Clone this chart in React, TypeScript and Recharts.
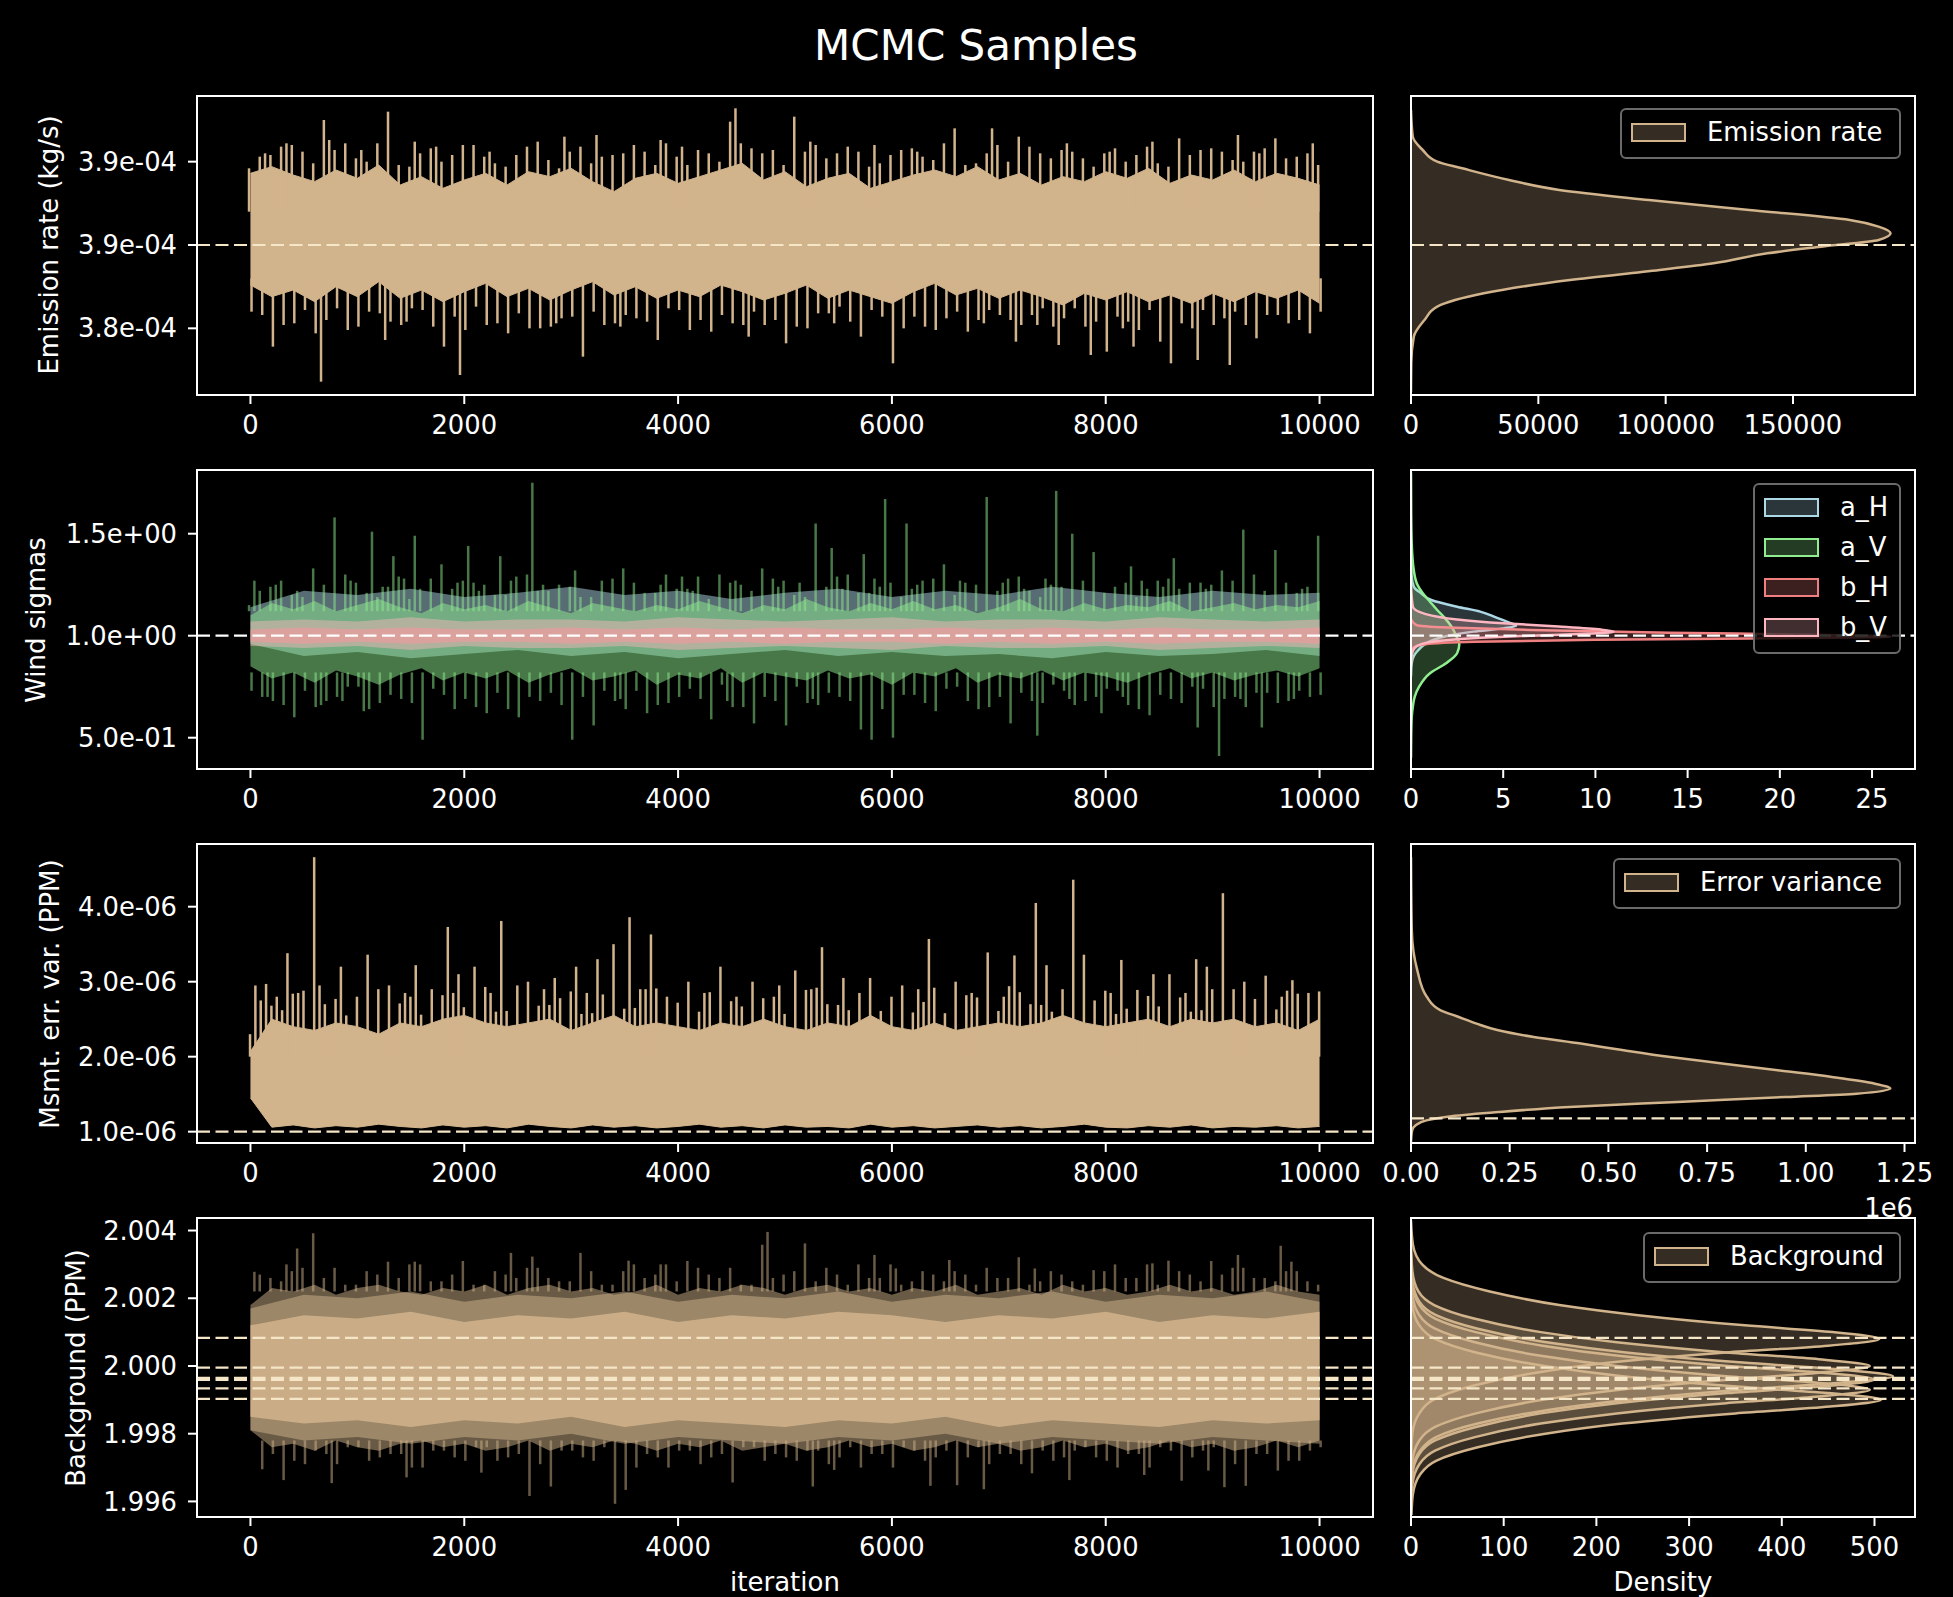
import React from 'react';
import { ComposedChart, Area, Bar, XAxis, YAxis, ReferenceLine } from 'recharts';

const FONT = '"DejaVu Sans", Verdana, sans-serif';
const TAN = '#d2b48c';
const CREAM = '#f5e6c8';
const WHITE = '#ffffff';
const LIGHTBLUE = '#add8e6';
const LIGHTGREEN = '#90ee90';
const LIGHTCORAL = '#f08080';
const PINK = '#ffb6c1';
const FS = 25.8;

// ---- layout of the 4x2 grid (px) ----
const LEFT_X = 197;
const LEFT_W = 1176;
const RIGHT_X = 1411;
const RIGHT_W = 504;
const PLOT_H = 299;
const ROW_TOPS = [96, 470, 844, 1218];

const ITER_TICKS = [0, 2000, 4000, 6000, 8000, 10000];

// ---- row 1 : emission rate (values in 1e-4 kg/s) ----
const emisTruth = 3.85;
const emisTicks = [3.8, 3.85, 3.9];
const emisTickLabels = ['3.8e-04', '3.9e-04', '3.9e-04'];
// dense part of the trace, every 200 iterations
const emisUpper = [3.893, 3.897, 3.892, 3.888, 3.895, 3.89, 3.898, 3.886, 3.891, 3.884, 3.889, 3.893, 3.886, 3.894, 3.891, 3.896, 3.888, 3.882, 3.89, 3.893, 3.887, 3.891, 3.895, 3.899, 3.889, 3.894, 3.885, 3.89, 3.893, 3.884, 3.888, 3.892, 3.895, 3.891, 3.897, 3.889, 3.893, 3.886, 3.891, 3.888, 3.894, 3.89, 3.896, 3.887, 3.892, 3.889, 3.895, 3.888, 3.893, 3.89, 3.886];
const emisLower = [3.826, 3.819, 3.823, 3.816, 3.825, 3.819, 3.828, 3.818, 3.823, 3.816, 3.822, 3.827, 3.819, 3.824, 3.817, 3.823, 3.828, 3.82, 3.825, 3.818, 3.823, 3.819, 3.826, 3.822, 3.817, 3.821, 3.826, 3.818, 3.823, 3.819, 3.815, 3.822, 3.827, 3.82, 3.824, 3.818, 3.823, 3.819, 3.814, 3.821, 3.817, 3.822, 3.816, 3.82, 3.815, 3.821, 3.816, 3.822, 3.818, 3.823, 3.815];
// ragged tips: odd hundreds (100, 300 ... 9900) and even (0, 200 ... 10000)
const emisTipHiOdd = [3.903, 3.909, 3.898, 3.906, 3.911, 3.9, 3.905, 3.897, 3.908, 3.902, 3.91, 3.899, 3.904, 3.907, 3.896, 3.909, 3.903, 3.9, 3.906, 3.911, 3.898, 3.905, 3.902, 3.908, 3.897, 3.904, 3.91, 3.901, 3.906, 3.899, 3.907, 3.903, 3.911, 3.898, 3.905, 3.9, 3.909, 3.902, 3.906, 3.897, 3.908, 3.904, 3.899, 3.91, 3.903, 3.906, 3.9, 3.908, 3.902, 3.905];
const emisTipLoOdd = [3.808, 3.802, 3.811, 3.805, 3.799, 3.81, 3.804, 3.812, 3.801, 3.807, 3.813, 3.803, 3.809, 3.8, 3.806, 3.811, 3.802, 3.808, 3.804, 3.812, 3.799, 3.807, 3.803, 3.81, 3.805, 3.801, 3.809, 3.813, 3.804, 3.807, 3.8, 3.81, 3.806, 3.802, 3.811, 3.805, 3.808, 3.801, 3.812, 3.804, 3.807, 3.799, 3.809, 3.803, 3.811, 3.806, 3.802, 3.808, 3.805, 3.81];
const emisTipHiEven = [3.896, 3.904, 3.91, 3.899, 3.907, 3.902, 3.911, 3.898, 3.905, 3.9, 3.908, 3.903, 3.897, 3.909, 3.901, 3.906, 3.899, 3.904, 3.91, 3.898, 3.903, 3.907, 3.9, 3.911, 3.905, 3.898, 3.906, 3.902, 3.909, 3.897, 3.904, 3.908, 3.901, 3.906, 3.899, 3.91, 3.903, 3.898, 3.907, 3.902, 3.905, 3.9, 3.909, 3.897, 3.904, 3.908, 3.901, 3.906, 3.899, 3.903, 3.898];
const emisTipLoEven = [3.81, 3.803, 3.807, 3.8, 3.812, 3.805, 3.809, 3.802, 3.811, 3.806, 3.799, 3.808, 3.804, 3.813, 3.801, 3.807, 3.81, 3.803, 3.806, 3.8, 3.811, 3.805, 3.808, 3.802, 3.812, 3.806, 3.8, 3.809, 3.804, 3.811, 3.803, 3.807, 3.799, 3.81, 3.805, 3.808, 3.802, 3.812, 3.806, 3.801, 3.809, 3.804, 3.811, 3.807, 3.8, 3.806, 3.81, 3.803, 3.808, 3.805, 3.81];
const emisSpikes: [number, number][] = [
  [150, 3.905], [350, 3.911], [500, 3.906], [700, 3.925], [750, 3.913], [1050, 3.907], [1300, 3.93], [1550, 3.912],
  [1750, 3.909], [1900, 3.904], [2000, 3.91], [2250, 3.906], [2700, 3.912], [2950, 3.915], [3250, 3.916], [3500, 3.905],
  [3850, 3.913], [4050, 3.909], [4200, 3.906], [4500, 3.924], [4550, 3.932], [4900, 3.907], [5100, 3.927], [5250, 3.912],
  [5500, 3.905], [5850, 3.91], [6250, 3.906], [6600, 3.92], [6950, 3.92], [7000, 3.908], [7200, 3.915], [7400, 3.905],
  [7650, 3.911], [8050, 3.906], [8450, 3.912], [8700, 3.914], [8900, 3.907], [9250, 3.916], [9450, 3.905], [9600, 3.914], [9950, 3.911],
  [200, 3.789], [400, 3.803], [600, 3.797], [650, 3.768], [1000, 3.801], [1250, 3.793], [1450, 3.804], [1800, 3.789],
  [1950, 3.772], [2200, 3.802], [2400, 3.797], [2600, 3.8], [2850, 3.803], [3100, 3.783], [3450, 3.801], [3800, 3.793],
  [4100, 3.804], [4300, 3.798], [4650, 3.795], [4800, 3.802], [5000, 3.791], [5450, 3.803], [5700, 3.795], [6000, 3.779],
  [6300, 3.801], [6700, 3.798], [6850, 3.803], [7150, 3.792], [7350, 3.802], [7550, 3.79], [7850, 3.784], [8000, 3.786],
  [8150, 3.8], [8250, 3.789], [8500, 3.792], [8600, 3.779], [8850, 3.781], [9000, 3.802], [9150, 3.778], [9400, 3.794],
  [9700, 3.803], [9900, 3.797],
];
const emisKdeV = [3.762, 3.779, 3.795, 3.805, 3.813, 3.821, 3.829, 3.835, 3.839, 3.845, 3.849, 3.853, 3.857, 3.861, 3.865, 3.871, 3.877, 3.883, 3.889, 3.896, 3.9, 3.907, 3.915, 3.931];
const emisKdeD = [0, 100, 1100, 5300, 10300, 28600, 62400, 97600, 118800, 139900, 161000, 183600, 188300, 183600, 172300, 132800, 93400, 58200, 38500, 20100, 10300, 4600, 700, 0];

// ---- row 2 : wind sigmas ----
const windTruth = 1.0;
const windTicks = [0.5, 1.0, 1.5];
const windTickLabels = ['5.0e-01', '1.0e+00', '1.5e+00'];
const aVUpper = [1.1, 1.16, 1.13, 1.17, 1.12, 1.15, 1.18, 1.14, 1.11, 1.16, 1.13, 1.15, 1.12, 1.17, 1.14, 1.11, 1.16, 1.14, 1.12, 1.15, 1.13, 1.17, 1.14, 1.11, 1.15, 1.13, 1.18, 1.14, 1.12, 1.16, 1.13, 1.17, 1.13, 1.15, 1.11, 1.14, 1.18, 1.13, 1.12, 1.16, 1.13, 1.15, 1.14, 1.17, 1.12, 1.14, 1.16, 1.13, 1.15, 1.14, 1.17];
const aVLower = [0.85, 0.79, 0.82, 0.77, 0.83, 0.8, 0.76, 0.81, 0.84, 0.78, 0.82, 0.79, 0.83, 0.77, 0.81, 0.84, 0.78, 0.8, 0.83, 0.76, 0.81, 0.79, 0.84, 0.77, 0.82, 0.8, 0.78, 0.83, 0.79, 0.81, 0.76, 0.82, 0.8, 0.84, 0.77, 0.81, 0.79, 0.83, 0.78, 0.82, 0.8, 0.77, 0.81, 0.84, 0.79, 0.82, 0.78, 0.81, 0.83, 0.8, 0.84];
const aVTipHiOdd = [1.22, 1.27, 1.19, 1.25, 1.3, 1.21, 1.24, 1.18, 1.28, 1.23, 1.26, 1.2, 1.29, 1.22, 1.25, 1.19, 1.27, 1.24, 1.21, 1.3, 1.23, 1.18, 1.26, 1.22, 1.28, 1.2, 1.25, 1.29, 1.21, 1.24, 1.19, 1.27, 1.23, 1.26, 1.2, 1.28, 1.22, 1.25, 1.3, 1.21, 1.24, 1.19, 1.27, 1.23, 1.26, 1.2, 1.29, 1.22, 1.25, 1.24];
const aVTipLoOdd = [0.7, 0.66, 0.73, 0.68, 0.75, 0.64, 0.71, 0.67, 0.74, 0.69, 0.65, 0.72, 0.68, 0.76, 0.66, 0.7, 0.73, 0.64, 0.71, 0.67, 0.74, 0.69, 0.65, 0.72, 0.68, 0.75, 0.66, 0.7, 0.73, 0.64, 0.71, 0.67, 0.74, 0.69, 0.65, 0.72, 0.68, 0.76, 0.66, 0.7, 0.73, 0.64, 0.71, 0.67, 0.74, 0.69, 0.65, 0.72, 0.68, 0.7];
const aVTipHiEven = [1.15, 1.24, 1.2, 1.28, 1.22, 1.26, 1.19, 1.29, 1.23, 1.21, 1.27, 1.25, 1.2, 1.3, 1.22, 1.24, 1.19, 1.28, 1.26, 1.21, 1.23, 1.29, 1.2, 1.25, 1.22, 1.27, 1.19, 1.24, 1.3, 1.21, 1.26, 1.23, 1.28, 1.2, 1.25, 1.22, 1.29, 1.19, 1.24, 1.27, 1.21, 1.26, 1.23, 1.28, 1.2, 1.25, 1.22, 1.3, 1.24, 1.21, 1.27];
const aVTipLoEven = [0.74, 0.68, 0.72, 0.65, 0.7, 0.75, 0.67, 0.73, 0.66, 0.71, 0.69, 0.74, 0.64, 0.7, 0.72, 0.67, 0.75, 0.68, 0.73, 0.66, 0.71, 0.69, 0.76, 0.65, 0.7, 0.73, 0.67, 0.72, 0.68, 0.74, 0.66, 0.71, 0.69, 0.75, 0.64, 0.7, 0.72, 0.67, 0.73, 0.68, 0.74, 0.66, 0.71, 0.69, 0.75, 0.65, 0.7, 0.72, 0.67, 0.73, 0.71];
const aHUpper = [1.14, 1.22, 1.2, 1.23, 1.19, 1.21, 1.24, 1.2, 1.22, 1.18, 1.21, 1.23, 1.19, 1.22, 1.2, 1.24, 1.21, 1.19, 1.22, 1.2, 1.21];
const aHLower = [0.96, 0.9, 0.92, 0.89, 0.91, 0.93, 0.9, 0.92, 0.89, 0.91, 0.93, 0.9, 0.92, 0.9, 0.91, 0.89, 0.92, 0.9, 0.91, 0.93, 0.9];
const bVUpper = [1.07, 1.08, 1.07, 1.09, 1.07, 1.08, 1.08, 1.07, 1.09, 1.08, 1.07, 1.08, 1.09, 1.07, 1.08, 1.08, 1.07, 1.09, 1.08, 1.07, 1.08];
const bVLower = [0.95, 0.94, 0.95, 0.93, 0.95, 0.94, 0.94, 0.95, 0.93, 0.94, 0.95, 0.94, 0.93, 0.95, 0.94, 0.94, 0.95, 0.93, 0.94, 0.95, 0.94];
const bHUpper = [1.03, 1.04, 1.03, 1.04, 1.03, 1.03, 1.04, 1.03, 1.04, 1.03, 1.04, 1.03, 1.03, 1.04, 1.03, 1.04, 1.03, 1.04, 1.03, 1.03, 1.04];
const bHLower = [0.97, 0.96, 0.97, 0.96, 0.97, 0.97, 0.96, 0.97, 0.96, 0.97, 0.96, 0.97, 0.97, 0.96, 0.97, 0.96, 0.97, 0.96, 0.97, 0.97, 0.96];
const aVSpikes: [number, number][] = [
  [50, 1.27], [250, 1.25], [450, 1.22], [600, 1.33], [800, 1.58], [950, 1.27], [1150, 1.51], [1250, 1.24], [1350, 1.39],
  [1450, 1.28], [1550, 1.49], [1700, 1.23], [1800, 1.35], [1950, 1.26], [2050, 1.44], [2150, 1.22], [2350, 1.39], [2450, 1.27],
  [2650, 1.75], [2750, 1.25], [2900, 1.21], [3050, 1.32], [3300, 1.26], [3500, 1.33], [3600, 1.23], [3850, 1.25], [4050, 1.29],
  [4150, 1.22], [4400, 1.3], [4550, 1.27], [4800, 1.33], [4950, 1.24], [5150, 1.26], [5300, 1.55], [5450, 1.43], [5550, 1.23],
  [5750, 1.4], [5850, 1.28], [5950, 1.67], [6150, 1.55], [6250, 1.25], [6500, 1.35], [6650, 1.27], [6800, 1.22], [6900, 1.68],
  [7050, 1.26], [7250, 1.23], [7450, 1.28], [7550, 1.71], [7700, 1.5], [7800, 1.25], [7900, 1.41], [8100, 1.22], [8250, 1.34],
  [8350, 1.27], [8550, 1.24], [8650, 1.38], [8800, 1.26], [8950, 1.23], [9100, 1.32], [9200, 1.27], [9300, 1.52], [9400, 1.24],
  [9600, 1.42], [9700, 1.26], [9850, 1.23], [10000, 1.49],
  [0, 0.73], [150, 0.7], [400, 0.6], [650, 0.66], [850, 0.68], [1050, 0.63], [1400, 0.69], [1600, 0.49], [1900, 0.64],
  [2100, 0.7], [2200, 0.62], [2500, 0.6], [2700, 0.68], [3000, 0.49], [3200, 0.56], [3450, 0.69], [3700, 0.62], [4000, 0.7],
  [4300, 0.59], [4450, 0.68], [4700, 0.57], [5000, 0.56], [5250, 0.69], [5600, 0.7], [5700, 0.54], [5800, 0.49], [6000, 0.5],
  [6400, 0.63], [6700, 0.68], [7100, 0.57], [7350, 0.51], [7650, 0.69], [7950, 0.62], [8150, 0.7], [8400, 0.61], [8700, 0.68],
  [8850, 0.55], [9050, 0.41], [9250, 0.69], [9450, 0.55], [9750, 0.69], [9900, 0.7],
];
const aHKdeV = [0.8, 0.86, 0.9, 0.93, 0.955, 0.979, 1.0, 1.02, 1.036, 1.049, 1.065, 1.09, 1.118, 1.142, 1.175, 1.208, 1.24, 1.3, 1.45];
const aHKdeD = [0, 0.03, 0.15, 0.4, 0.7, 1.2, 2.0, 3.4, 5.0, 5.7, 5.3, 4.6, 3.75, 2.5, 1.1, 0.55, 0.15, 0.03, 0];
const aVKdeV = [0.4, 0.5, 0.6, 0.652, 0.7, 0.75, 0.816, 0.865, 0.914, 0.959, 1.0, 1.044, 1.085, 1.126, 1.17, 1.208, 1.25, 1.322, 1.45, 1.6, 1.8];
const aVKdeD = [0, 0.01, 0.04, 0.1, 0.2, 0.44, 1.03, 1.9, 2.5, 2.62, 2.45, 2.2, 1.85, 1.42, 1.0, 0.64, 0.35, 0.15, 0.04, 0.01, 0];
const bHKdeV = [0.9, 0.94, 0.958, 0.97, 0.98, 0.988, 0.995, 1.005, 1.015, 1.028, 1.04, 1.052, 1.08];
const bHKdeD = [0, 0.1, 0.8, 3.5, 10, 20, 26, 22, 14, 6.5, 2.0, 0.3, 0];
const bVKdeV = [0.85, 0.91, 0.94, 0.96, 0.975, 0.99, 1.0, 1.01, 1.02, 1.03, 1.045, 1.061, 1.08, 1.106, 1.142, 1.25];
const bVKdeD = [0, 0.05, 0.2, 0.6, 1.6, 3.8, 6.5, 9.5, 11.0, 10.3, 8.0, 5.0, 2.5, 0.8, 0.1, 0];

// ---- row 3 : measurement error variance (values in 1e-6) ----
const errTruth = 1.0;
const errTicks = [1, 2, 3, 4];
const errTickLabels = ['1.0e-06', '2.0e-06', '3.0e-06', '4.0e-06'];
const errUpper = [2.07, 2.5, 2.4, 2.35, 2.45, 2.4, 2.3, 2.45, 2.4, 2.5, 2.55, 2.45, 2.4, 2.45, 2.5, 2.35, 2.45, 2.55, 2.4, 2.45, 2.4, 2.35, 2.45, 2.4, 2.5, 2.4, 2.35, 2.45, 2.4, 2.55, 2.4, 2.35, 2.45, 2.35, 2.4, 2.45, 2.4, 2.45, 2.55, 2.45, 2.4, 2.45, 2.5, 2.4, 2.5, 2.45, 2.5, 2.4, 2.45, 2.35, 2.5];
const errLower = [1.45, 1.06, 1.09, 1.05, 1.08, 1.06, 1.1, 1.07, 1.05, 1.09, 1.06, 1.08, 1.05, 1.1, 1.07, 1.05, 1.09, 1.06, 1.08, 1.05, 1.07, 1.1, 1.06, 1.08, 1.05, 1.09, 1.06, 1.07, 1.05, 1.1, 1.06, 1.08, 1.05, 1.07, 1.09, 1.06, 1.08, 1.05, 1.07, 1.1, 1.06, 1.05, 1.08, 1.06, 1.09, 1.05, 1.07, 1.06, 1.08, 1.05, 1.07];
const errTipHiOdd = [2.75, 2.62, 2.88, 2.7, 2.55, 2.92, 2.66, 2.8, 2.58, 2.85, 2.72, 2.6, 2.95, 2.68, 2.78, 2.57, 2.83, 2.64, 2.9, 2.71, 2.59, 2.86, 2.74, 2.63, 2.8, 2.56, 2.92, 2.69, 2.77, 2.61, 2.87, 2.73, 2.58, 2.82, 2.66, 2.94, 2.7, 2.6, 2.85, 2.75, 2.57, 2.89, 2.67, 2.79, 2.62, 2.84, 2.71, 2.58, 2.88, 2.74];
const errTipHiEven = [2.3, 2.68, 2.84, 2.59, 2.77, 2.63, 2.9, 2.71, 2.56, 2.82, 2.66, 2.93, 2.61, 2.76, 2.69, 2.87, 2.58, 2.8, 2.65, 2.91, 2.72, 2.6, 2.85, 2.67, 2.78, 2.57, 2.89, 2.7, 2.62, 2.83, 2.74, 2.59, 2.92, 2.66, 2.79, 2.61, 2.86, 2.69, 2.75, 2.58, 2.88, 2.64, 2.81, 2.72, 2.6, 2.9, 2.67, 2.77, 2.63, 2.84, 2.7];
const errSpikes: [number, number][] = [
  [50, 2.95], [150, 2.97], [250, 2.8], [350, 3.38], [450, 2.85], [600, 4.66], [650, 2.95], [850, 3.2], [1000, 2.8],
  [1100, 3.36], [1300, 2.95], [1450, 2.85], [1550, 3.22], [1700, 2.9], [1850, 3.73], [1950, 3.1], [2100, 3.2], [2250, 2.85],
  [2350, 3.81], [2500, 2.8], [2600, 3.0], [2750, 2.9], [2850, 3.05], [3050, 3.2], [3150, 2.85], [3250, 3.3], [3400, 3.5],
  [3550, 3.86], [3650, 2.9], [3750, 3.63], [3900, 2.8], [4100, 3.0], [4250, 2.85], [4400, 3.2], [4550, 2.8], [4700, 3.0],
  [4950, 2.95], [5100, 3.15], [5250, 2.9], [5350, 3.46], [5550, 3.05], [5700, 2.85], [5800, 3.05], [6000, 2.8], [6100, 2.95],
  [6250, 2.9], [6350, 3.57], [6600, 3.0], [6750, 2.85], [6900, 3.39], [7050, 2.8], [7150, 3.35], [7350, 4.05], [7450, 3.22],
  [7600, 2.9], [7700, 4.36], [7800, 3.36], [8050, 2.85], [8150, 3.29], [8300, 2.8], [8450, 3.1], [8600, 3.1], [8750, 2.85],
  [8850, 3.3], [8950, 3.2], [9100, 4.18], [9200, 2.9], [9300, 3.0], [9500, 3.08], [9650, 2.8], [9750, 3.02], [9900, 2.85], [10000, 2.87],
];
const errKdeV = [0.684, 0.84, 0.907, 0.973, 1.027, 1.084, 1.151, 1.218, 1.284, 1.329, 1.396, 1.462, 1.551, 1.64, 1.729, 1.817, 1.907, 1.996, 2.084, 2.173, 2.262, 2.351, 2.44, 2.62, 2.973, 3.507, 4.484];
const errKdeD = [0, 0.003, 0.012, 0.039, 0.102, 0.221, 0.402, 0.675, 0.948, 1.129, 1.214, 1.175, 1.066, 0.929, 0.793, 0.657, 0.539, 0.43, 0.311, 0.221, 0.166, 0.121, 0.075, 0.04, 0.016, 0.002, 0];

// ---- row 4 : background (PPM) ----
const bgTruths = [2.00083, 1.99995, 1.99965, 1.99959, 1.99934, 1.99903];
const bgTicks = [1.996, 1.998, 2.0, 2.002, 2.004];
const bgOuterUpper = [2.0018, 2.0023, 2.0022, 2.0024, 2.0021, 2.0023, 2.0024, 2.0022, 2.0021, 2.0023, 2.0022, 2.0024, 2.0021, 2.0023, 2.0024, 2.0022, 2.0023, 2.0021, 2.0022, 2.0024, 2.0021, 2.0023, 2.0022, 2.0024, 2.0023, 2.0021, 2.0023, 2.0024, 2.0022, 2.0023, 2.0021, 2.0023, 2.0022, 2.0024, 2.0021, 2.0022, 2.0023, 2.0021, 2.0024, 2.0022, 2.0023, 2.0021, 2.0022, 2.0024, 2.0022, 2.0023, 2.0021, 2.0022, 2.0024, 2.0022, 2.0021];
const bgOuterLower = [1.9981, 1.9976, 1.9977, 1.9975, 1.9978, 1.9976, 1.9975, 1.9977, 1.9978, 1.9976, 1.9977, 1.9975, 1.9976, 1.9978, 1.9975, 1.9977, 1.9976, 1.9978, 1.9977, 1.9975, 1.9977, 1.9976, 1.9978, 1.9975, 1.9976, 1.9977, 1.9975, 1.9976, 1.9978, 1.9976, 1.9977, 1.9975, 1.9976, 1.9978, 1.9976, 1.9977, 1.9975, 1.9976, 1.9978, 1.9976, 1.9977, 1.9975, 1.9976, 1.9978, 1.9976, 1.9977, 1.9975, 1.9976, 1.9978, 1.9976, 1.9978];
const bgTipHiOdd = [2.0027, 2.0025, 2.0029, 2.0026, 2.0024, 2.0028, 2.0026, 2.003, 2.0025, 2.0027, 2.0024, 2.0028, 2.0026, 2.0029, 2.0025, 2.0027, 2.0024, 2.0028, 2.0026, 2.003, 2.0025, 2.0027, 2.0029, 2.0024, 2.0026, 2.0028, 2.0025, 2.0027, 2.003, 2.0026, 2.0024, 2.0028, 2.0025, 2.0027, 2.0029, 2.0026, 2.0024, 2.0028, 2.0025, 2.0027, 2.003, 2.0026, 2.0024, 2.0028, 2.0025, 2.0027, 2.0029, 2.0026, 2.0028, 2.0025];
const bgTipLoOdd = [1.9973, 1.9975, 1.9971, 1.9974, 1.9976, 1.9972, 1.9974, 1.997, 1.9975, 1.9973, 1.9976, 1.9972, 1.9974, 1.9971, 1.9975, 1.9973, 1.9976, 1.9972, 1.9974, 1.997, 1.9975, 1.9973, 1.9971, 1.9976, 1.9974, 1.9972, 1.9975, 1.9973, 1.997, 1.9974, 1.9976, 1.9972, 1.9975, 1.9973, 1.9971, 1.9974, 1.9976, 1.9972, 1.9975, 1.9973, 1.997, 1.9974, 1.9976, 1.9972, 1.9975, 1.9973, 1.9971, 1.9974, 1.9972, 1.9975];
const bgTipHiEven = [2.0022, 2.0026, 2.0028, 2.0025, 2.0029, 2.0024, 2.0027, 2.0026, 2.003, 2.0025, 2.0028, 2.0024, 2.0027, 2.0029, 2.0026, 2.0025, 2.0028, 2.0024, 2.003, 2.0027, 2.0025, 2.0029, 2.0026, 2.0024, 2.0028, 2.0027, 2.0025, 2.0029, 2.0024, 2.0026, 2.003, 2.0025, 2.0027, 2.0028, 2.0024, 2.0026, 2.0029, 2.0025, 2.0027, 2.0024, 2.0028, 2.0026, 2.003, 2.0025, 2.0027, 2.0024, 2.0029, 2.0026, 2.0025, 2.0028, 2.0024];
const bgTipLoEven = [1.9978, 1.9974, 1.9972, 1.9975, 1.9971, 1.9976, 1.9973, 1.9974, 1.997, 1.9975, 1.9972, 1.9976, 1.9973, 1.9971, 1.9974, 1.9975, 1.9972, 1.9976, 1.997, 1.9973, 1.9975, 1.9971, 1.9974, 1.9976, 1.9972, 1.9973, 1.9975, 1.9971, 1.9976, 1.9974, 1.997, 1.9975, 1.9973, 1.9972, 1.9976, 1.9974, 1.9971, 1.9975, 1.9973, 1.9976, 1.9972, 1.9974, 1.997, 1.9975, 1.9973, 1.9976, 1.9971, 1.9974, 1.9975, 1.9972, 1.9976];
const bgMidUpper = [2.0017, 2.0021, 2.002, 2.0022, 2.0019, 2.0021, 2.002, 2.0022, 2.0019, 2.0021, 2.002, 2.0022, 2.0019, 2.0021, 2.002, 2.0022, 2.0019, 2.0021, 2.002, 2.0022, 2.0019];
const bgMidLower = [1.9981, 1.9978, 1.9979, 1.9977, 1.9979, 1.9978, 1.998, 1.9977, 1.9979, 1.9978, 1.9977, 1.9979, 1.9978, 1.998, 1.9977, 1.9979, 1.9978, 1.9977, 1.9979, 1.9978, 1.9977];
const bgCoreUpper = [2.0012, 2.0015, 2.0014, 2.0016, 2.0013, 2.0015, 2.0014, 2.0016, 2.0013, 2.0015, 2.0014, 2.0016, 2.0015, 2.0013, 2.0015, 2.0014, 2.0016, 2.0013, 2.0015, 2.0014, 2.0016];
const bgCoreLower = [1.9985, 1.9983, 1.9984, 1.9982, 1.9984, 1.9983, 1.9985, 1.9982, 1.9984, 1.9983, 1.9982, 1.9984, 1.9983, 1.9985, 1.9982, 1.9984, 1.9983, 1.9982, 1.9984, 1.9983, 1.9984];
const bgSpikes: [number, number][] = [
  [50, 2.00278], [350, 2.003], [450, 2.00347], [600, 2.00392], [1300, 2.00308], [1550, 2.00308], [2000, 2.0031],
  [2450, 2.00334], [2650, 2.00323], [3100, 2.00334], [3550, 2.00311], [3850, 2.003], [4100, 2.0031], [4800, 2.00358],
  [4850, 2.00396], [5200, 2.00362], [5850, 2.00328], [6050, 2.00288], [6550, 2.00313], [7200, 2.00321], [7350, 2.00288],
  [7900, 2.00283], [8450, 2.00303], [8600, 2.00311], [9000, 2.0031], [9250, 2.00328], [9650, 2.00355], [9750, 2.00308],
  [100, 1.99695], [300, 1.99663], [750, 1.99654], [1450, 1.99671], [2150, 1.99685], [2600, 1.99616], [2800, 1.99644],
  [3400, 1.99593], [3500, 1.99634], [4500, 1.99656], [5250, 1.99644], [5450, 1.99693], [6350, 1.99646], [6600, 1.99648],
  [6850, 1.99636], [7300, 1.99683], [7650, 1.99663], [8350, 1.99678], [8700, 1.99661], [8950, 1.99691], [9100, 1.99642],
  [9300, 1.99646], [9600, 1.99691],
];
const bgKdeA_V = [1.9972, 1.998, 1.9986, 1.999, 1.9994, 1.9998, 2.0001, 2.0004, 2.0006, 2.0008, 2.001, 2.0012, 2.0015, 2.0018, 2.0022, 2.0026, 2.003, 2.0036, 2.0043];
const bgKdeA_D = [0, 1.5, 9, 24, 65, 135, 215, 340, 450, 505, 455, 360, 245, 160, 85, 35, 12, 2, 0];
const bgKdeB_V = [1.9964, 1.9972, 1.9978, 1.9982, 1.9986, 1.999, 1.9993, 1.9996, 1.9998, 2.0, 2.0002, 2.0004, 2.0007, 2.001, 2.0014, 2.0018, 2.0022, 2.0028, 2.0036];
const bgKdeB_D = [0, 1.5, 9, 26, 70, 142, 225, 345, 440, 495, 440, 340, 222, 140, 68, 25, 8, 1.5, 0];
const bgKdeC_V = [1.9961, 1.9969, 1.9975, 1.9979, 1.9983, 1.9987, 1.999, 1.9993, 1.9995, 1.9997, 1.9999, 2.0001, 2.0004, 2.0007, 2.0011, 2.0015, 2.0019, 2.0025, 2.0033];
const bgKdeC_D = [0, 1.6, 10, 27, 72, 148, 235, 355, 460, 520, 462, 358, 232, 146, 72, 27, 9, 1.6, 0];
const bgKdeD_V = [1.996, 1.9968, 1.9974, 1.9978, 1.9982, 1.9986, 1.9989, 1.9992, 1.9994, 1.9996, 1.9998, 2.0, 2.0003, 2.0006, 2.001, 2.0014, 2.0018, 2.0024, 2.0032];
const bgKdeD_D = [0, 1.5, 9, 26, 70, 140, 222, 342, 445, 500, 445, 342, 224, 142, 70, 26, 9, 1.5, 0];
const bgKdeE_V = [1.9957, 1.9965, 1.9971, 1.9975, 1.9979, 1.9983, 1.9986, 1.9989, 1.9991, 1.9993, 1.9995, 1.9997, 2.0, 2.0003, 2.0007, 2.0011, 2.0015, 2.0021, 2.0029];
const bgKdeE_D = [0, 1.5, 9, 26, 69, 140, 222, 340, 440, 495, 440, 340, 222, 140, 69, 26, 9, 1.5, 0];
const bgKdeF_V = [1.9956, 1.9962, 1.9968, 1.9972, 1.9976, 1.998, 1.9983, 1.9986, 1.9988, 1.999, 1.9992, 1.9994, 1.9997, 2.0, 2.0004, 2.0008, 2.0012, 2.0018, 2.0026];
const bgKdeF_D = [0.5, 2, 10, 27, 72, 145, 228, 350, 452, 507, 450, 348, 228, 144, 70, 26, 9, 1.5, 0];

// ---- table builders ----
type Row = { [k: string]: number };
type BandDef = { key: string; step: number; lo: number[]; hi: number[] };
type TipDef = { offset: number; hi: number[] | null; lo: number[] | null };

function traceTable(bands: BandDef[], tips: TipDef[], spikes: [number, number][], mid: number) {
  const m = new Map<number, Row>();
  const get = (it: number) => {
    let r = m.get(it);
    if (!r) { r = { it }; m.set(it, r); }
    return r;
  };
  bands.forEach((b) => b.lo.forEach((lo, i) => {
    const r = get(i * b.step);
    r[b.key + 'Lo'] = lo;
    r[b.key + 'Hi'] = b.hi[i];
  }));
  tips.forEach((t) => {
    t.hi?.forEach((v, i) => { get(t.offset + i * 200).tHi = v; });
    t.lo?.forEach((v, i) => { get(t.offset + i * 200).tLo = v; });
  });
  spikes.forEach(([it, tip]) => {
    const r = get(it);
    if (tip > mid) r.sUp = Math.max(tip, r.sUp ?? -Infinity);
    else r.sDn = Math.min(tip, r.sDn ?? Infinity);
  });
  return [...m.values()].sort((a, b) => a.it - b.it);
}

function kdeTable(series: { key: string; v: number[]; d: number[] }[]) {
  const m = new Map<number, Row>();
  series.forEach((s) => s.v.forEach((v, i) => {
    let r = m.get(v);
    if (!r) { r = { v }; m.set(v, r); }
    r[s.key] = s.d[i];
  }));
  return [...m.values()].sort((a, b) => a.v - b.v);
}

const band = (key: string) => (r: Row) => (r[key + 'Lo'] == null ? null : [r[key + 'Lo'], r[key + 'Hi']]);
const upKey = (base: number) => (r: Row) => {
  const t = Math.max(r.tHi ?? -Infinity, r.sUp ?? -Infinity);
  return t === -Infinity ? [base, base] : [base, t];
};
const downKey = (base: number) => (r: Row) => {
  const t = Math.min(r.tLo ?? Infinity, r.sDn ?? Infinity);
  return t === Infinity ? [base, base] : [t, base];
};

const emisData = traceTable(
  [{ key: 'e', step: 200, lo: emisLower, hi: emisUpper }],
  [{ offset: 100, hi: emisTipHiOdd, lo: emisTipLoOdd }, { offset: 0, hi: emisTipHiEven, lo: emisTipLoEven }],
  emisSpikes, emisTruth,
);
const windData = traceTable([
  { key: 'aV', step: 200, lo: aVLower, hi: aVUpper },
  { key: 'aH', step: 500, lo: aHLower, hi: aHUpper },
  { key: 'bH', step: 500, lo: bHLower, hi: bHUpper },
  { key: 'bV', step: 500, lo: bVLower, hi: bVUpper },
], [{ offset: 100, hi: aVTipHiOdd, lo: aVTipLoOdd }, { offset: 0, hi: aVTipHiEven, lo: aVTipLoEven }], aVSpikes, windTruth);
const errData = traceTable(
  [{ key: 'r', step: 200, lo: errLower, hi: errUpper }],
  [{ offset: 100, hi: errTipHiOdd, lo: null }, { offset: 0, hi: errTipHiEven, lo: null }],
  errSpikes, 1.5,
);
const bgData = traceTable([
  { key: 'o', step: 200, lo: bgOuterLower, hi: bgOuterUpper },
  { key: 'm', step: 500, lo: bgMidLower, hi: bgMidUpper },
  { key: 'c', step: 500, lo: bgCoreLower, hi: bgCoreUpper },
], [{ offset: 100, hi: bgTipHiOdd, lo: bgTipLoOdd }, { offset: 0, hi: bgTipHiEven, lo: bgTipLoEven }], bgSpikes, 2.0);

const emisKde = kdeTable([{ key: 'd', v: emisKdeV, d: emisKdeD }]);
const windKde = kdeTable([
  { key: 'aH', v: aHKdeV, d: aHKdeD },
  { key: 'aV', v: aVKdeV, d: aVKdeD },
  { key: 'bH', v: bHKdeV, d: bHKdeD },
  { key: 'bV', v: bVKdeV, d: bVKdeD },
]);
const errKde = kdeTable([{ key: 'd', v: errKdeV, d: errKdeD }]);
const bgKde = kdeTable([
  { key: 'A', v: bgKdeA_V, d: bgKdeA_D },
  { key: 'B', v: bgKdeB_V, d: bgKdeB_D },
  { key: 'C', v: bgKdeC_V, d: bgKdeC_D },
  { key: 'D', v: bgKdeD_V, d: bgKdeD_D },
  { key: 'E', v: bgKdeE_V, d: bgKdeE_D },
  { key: 'F', v: bgKdeF_V, d: bgKdeF_D },
]);

// ---- one axes box ----
const TM = 10;
const RM = 45;
const XH = 70;
const spine = { stroke: WHITE, strokeWidth: 2 };
const tickText = { fill: WHITE, fontSize: FS, fontFamily: FONT };

type PanelProps = {
  left: number; top: number; plotW: number; yW: number; data: Row[]; vertical?: boolean;
  xDomain: [number, number]; xTicks: number[]; xFmt: (v: number) => string;
  yDomain: [number, number]; yTicks?: number[]; yFmt?: (v: number) => string;
  children: React.ReactNode;
};

function Panel(p: PanelProps) {
  const W = p.yW + p.plotW + RM;
  const H = TM + PLOT_H + XH;
  return (
    <>
      <div style={{ position: 'absolute', left: p.left - p.yW, top: p.top - TM }}>
        <ComposedChart width={W} height={H} data={p.data} layout={p.vertical ? 'vertical' : 'horizontal'}
          margin={{ top: TM, right: RM, bottom: 0, left: 0 }}>
          <XAxis type="number" dataKey={p.vertical ? undefined : 'it'} domain={p.xDomain} ticks={p.xTicks}
            tickFormatter={p.xFmt} allowDataOverflow interval={0} height={XH} tickSize={9} tickMargin={12}
            tick={tickText} tickLine={spine} axisLine={spine} />
          <YAxis type="number" dataKey={p.vertical ? 'v' : undefined} domain={p.yDomain} ticks={p.yTicks}
            reversed={!!p.vertical}
            tickFormatter={p.yFmt} allowDataOverflow interval={0} width={p.yW} tickSize={9} tickMargin={11}
            tick={p.yTicks ? tickText : false} tickLine={p.yTicks ? spine : false} axisLine={spine} />
          {p.children}
        </ComposedChart>
      </div>
      {/* axes frame (top and right spines) */}
      <div style={{
        position: 'absolute', left: p.left - 1, top: p.top - 1, width: p.plotW + 2, height: PLOT_H + 2,
        border: `2px solid ${WHITE}`, boxSizing: 'border-box', pointerEvents: 'none',
      }} />
    </>
  );
}

const leftCommon = {
  left: LEFT_X, plotW: LEFT_W, yW: 197,
  xDomain: [-500, 10500] as [number, number], xTicks: ITER_TICKS, xFmt: (v: number) => String(v),
};
const rightCommon = { left: RIGHT_X, plotW: RIGHT_W, yW: 40, vertical: true };
const dash = { strokeDasharray: '13 5.5', strokeWidth: 2.2 };

function LegendBox({ left, top, width, items }: { left: number; top: number; width: number; items: { label: string; color: string }[] }) {
  return (
    <div style={{
      position: 'absolute', left, top, width, boxSizing: 'border-box', padding: '2px 0 5px 9px',
      border: '2px solid #6a6a6a', borderRadius: 6, background: 'rgba(0,0,0,0.8)',
    }}>
      {items.map((it) => (
        <div key={it.label} style={{ display: 'flex', alignItems: 'center', height: 40 }}>
          <span style={{ width: 55, height: 19, boxSizing: 'border-box', border: `2px solid ${it.color}`, background: it.color + '40' }} />
          <span style={{ marginLeft: 21, fontSize: FS, lineHeight: '26px', color: WHITE }}>{it.label}</span>
        </div>
      ))}
    </div>
  );
}

function YLabel({ cx, cy, text }: { cx: number; cy: number; text: string }) {
  return (
    <div style={{
      position: 'absolute', left: cx, top: cy, transform: 'translate(-50%, -50%) rotate(-90deg)',
      whiteSpace: 'nowrap', fontSize: 26, lineHeight: '26px',
    }}>{text}</div>
  );
}

const labelFrom = (ticks: number[], labels: string[]) => (v: number) => labels[ticks.indexOf(v)] ?? '';

export default function App() {
  return (
    <div style={{
      position: 'absolute', left: 0, top: 0, width: 1953, height: 1597, background: '#000',
      color: WHITE, fontFamily: FONT, overflow: 'hidden',
    }}>
      <div style={{ position: 'absolute', left: 976, top: 25, transform: 'translateX(-50%)', fontSize: 42, lineHeight: '42px', whiteSpace: 'nowrap' }}>
        MCMC Samples
      </div>

      {/* row 1 */}
      <Panel {...leftCommon} top={ROW_TOPS[0]} data={emisData} yDomain={[3.76, 3.9394]} yTicks={emisTicks}
        yFmt={labelFrom(emisTicks, emisTickLabels)}>
        <Area dataKey={band('e')} type="linear" stroke={TAN} strokeWidth={1} fill={TAN} fillOpacity={1} connectNulls isAnimationActive={false} />
        <Bar dataKey={upKey(3.87)} fill={TAN} barSize={2.5} isAnimationActive={false} />
        <Bar dataKey={downKey(3.83)} fill={TAN} barSize={2.5} isAnimationActive={false} />
        <ReferenceLine y={emisTruth} stroke={CREAM} {...dash} />
      </Panel>
      <Panel {...rightCommon} top={ROW_TOPS[0]} data={emisKde} xDomain={[0, 197900]} xTicks={[0, 50000, 100000, 150000]}
        xFmt={(v) => String(v)} yDomain={[3.76, 3.9394]}>
        <Area dataKey="d" type="monotone" stroke={TAN} strokeWidth={2.5} fill={TAN} fillOpacity={0.25} connectNulls isAnimationActive={false} />
        <ReferenceLine y={emisTruth} stroke={CREAM} {...dash} />
      </Panel>

      {/* row 2 */}
      <Panel {...leftCommon} top={ROW_TOPS[1]} data={windData} yDomain={[0.3466, 1.8123]} yTicks={windTicks}
        yFmt={labelFrom(windTicks, windTickLabels)}>
        <Area dataKey={band('aH')} type="linear" stroke="none" fill={LIGHTBLUE} fillOpacity={0.5} connectNulls isAnimationActive={false} />
        <Area dataKey={band('aV')} type="linear" stroke="none" fill={LIGHTGREEN} fillOpacity={0.5} connectNulls isAnimationActive={false} />
        <Bar dataKey={upKey(1.12)} fill={LIGHTGREEN} fillOpacity={0.5} barSize={2.5} isAnimationActive={false} />
        <Bar dataKey={downKey(0.82)} fill={LIGHTGREEN} fillOpacity={0.5} barSize={2.5} isAnimationActive={false} />
        <Area dataKey={band('bH')} type="linear" stroke="none" fill={LIGHTCORAL} fillOpacity={0.6} connectNulls isAnimationActive={false} />
        <Area dataKey={band('bV')} type="linear" stroke="none" fill={PINK} fillOpacity={0.45} connectNulls isAnimationActive={false} />
        <ReferenceLine y={windTruth} stroke={WHITE} {...dash} />
      </Panel>
      <Panel {...rightCommon} top={ROW_TOPS[1]} data={windKde} xDomain={[0, 27.33]} xTicks={[0, 5, 10, 15, 20, 25]}
        xFmt={(v) => String(v)} yDomain={[0.3466, 1.8123]}>
        <Area dataKey="aH" type="monotone" stroke={LIGHTBLUE} strokeWidth={2.5} fill={LIGHTBLUE} fillOpacity={0.25} connectNulls isAnimationActive={false} />
        <Area dataKey="aV" type="monotone" stroke={LIGHTGREEN} strokeWidth={2.5} fill={LIGHTGREEN} fillOpacity={0.25} connectNulls isAnimationActive={false} />
        <Area dataKey="bH" type="monotone" stroke={LIGHTCORAL} strokeWidth={2.5} fill={LIGHTCORAL} fillOpacity={0.25} connectNulls isAnimationActive={false} />
        <Area dataKey="bV" type="monotone" stroke={PINK} strokeWidth={2.5} fill={PINK} fillOpacity={0.25} connectNulls isAnimationActive={false} />
        <ReferenceLine y={windTruth} stroke={WHITE} {...dash} />
      </Panel>

      {/* row 3 */}
      <Panel {...leftCommon} top={ROW_TOPS[2]} data={errData} yDomain={[0.849, 4.836]} yTicks={errTicks}
        yFmt={labelFrom(errTicks, errTickLabels)}>
        <Area dataKey={band('r')} type="linear" stroke={TAN} strokeWidth={1} fill={TAN} fillOpacity={1} connectNulls isAnimationActive={false} />
        <Bar dataKey={upKey(2.0)} fill={TAN} barSize={2.5} isAnimationActive={false} />
        <ReferenceLine y={errTruth} stroke={CREAM} {...dash} />
      </Panel>
      <Panel {...rightCommon} top={ROW_TOPS[2]} data={errKde} xDomain={[0, 1.2766]} xTicks={[0, 0.25, 0.5, 0.75, 1, 1.25]}
        xFmt={(v) => v.toFixed(2)} yDomain={[0.671, 4.657]}>
        <Area dataKey="d" type="monotone" stroke={TAN} strokeWidth={2.5} fill={TAN} fillOpacity={0.25} connectNulls isAnimationActive={false} />
        <ReferenceLine y={errTruth} stroke={CREAM} {...dash} />
      </Panel>

      {/* row 4 */}
      <Panel {...leftCommon} top={ROW_TOPS[3]} data={bgData} yDomain={[1.99554, 2.00437]} yTicks={bgTicks}
        yFmt={(v) => v.toFixed(3)}>
        <Area dataKey={band('o')} type="linear" stroke="none" fill={TAN} fillOpacity={0.5} connectNulls isAnimationActive={false} />
        <Bar dataKey={upKey(2.0022)} fill={TAN} fillOpacity={0.5} barSize={2.5} isAnimationActive={false} />
        <Bar dataKey={downKey(1.9978)} fill={TAN} fillOpacity={0.5} barSize={2.5} isAnimationActive={false} />
        <Area dataKey={band('m')} type="linear" stroke="none" fill={TAN} fillOpacity={0.5} connectNulls isAnimationActive={false} />
        <Area dataKey={band('c')} type="linear" stroke="none" fill={TAN} fillOpacity={0.85} connectNulls isAnimationActive={false} />
        {bgTruths.map((t) => <ReferenceLine key={t} y={t} stroke={CREAM} {...dash} />)}
      </Panel>
      <Panel {...rightCommon} top={ROW_TOPS[3]} data={bgKde} xDomain={[0, 543.7]} xTicks={[0, 100, 200, 300, 400, 500]}
        xFmt={(v) => String(v)} yDomain={[1.99554, 2.00437]}>
        {['A', 'B', 'C', 'D', 'E', 'F'].map((k) => (
          <Area key={k} dataKey={k} type="monotone" stroke={TAN} strokeWidth={2.5} fill={TAN} fillOpacity={0.25} connectNulls isAnimationActive={false} />
        ))}
        {bgTruths.map((t) => <ReferenceLine key={t} y={t} stroke={CREAM} {...dash} />)}
      </Panel>

      {/* axis labels */}
      <YLabel cx={49} cy={245} text="Emission rate (kg/s)" />
      <YLabel cx={36} cy={620} text="Wind sigmas" />
      <YLabel cx={50} cy={994} text="Msmt. err. var. (PPM)" />
      <YLabel cx={76} cy={1368} text="Background (PPM)" />
      <div style={{ position: 'absolute', left: 785, top: 1572, transform: 'translateX(-50%)', fontSize: 26, lineHeight: '20px' }}>iteration</div>
      <div style={{ position: 'absolute', left: 1663, top: 1572, transform: 'translateX(-50%)', fontSize: 26, lineHeight: '20px' }}>Density</div>
      <div style={{ position: 'absolute', left: 1913, top: 1195, transform: 'translateX(-100%)', fontSize: FS, lineHeight: '26px' }}>1e6</div>

      {/* legends */}
      <LegendBox left={1620} top={108} width={281} items={[{ label: 'Emission rate', color: TAN }]} />
      <LegendBox left={1753} top={483} width={148} items={[
        { label: 'a_H', color: LIGHTBLUE }, { label: 'a_V', color: LIGHTGREEN },
        { label: 'b_H', color: LIGHTCORAL }, { label: 'b_V', color: PINK },
      ]} />
      <LegendBox left={1613} top={858} width={288} items={[{ label: 'Error variance', color: TAN }]} />
      <LegendBox left={1643} top={1232} width={258} items={[{ label: 'Background', color: TAN }]} />
    </div>
  );
}
